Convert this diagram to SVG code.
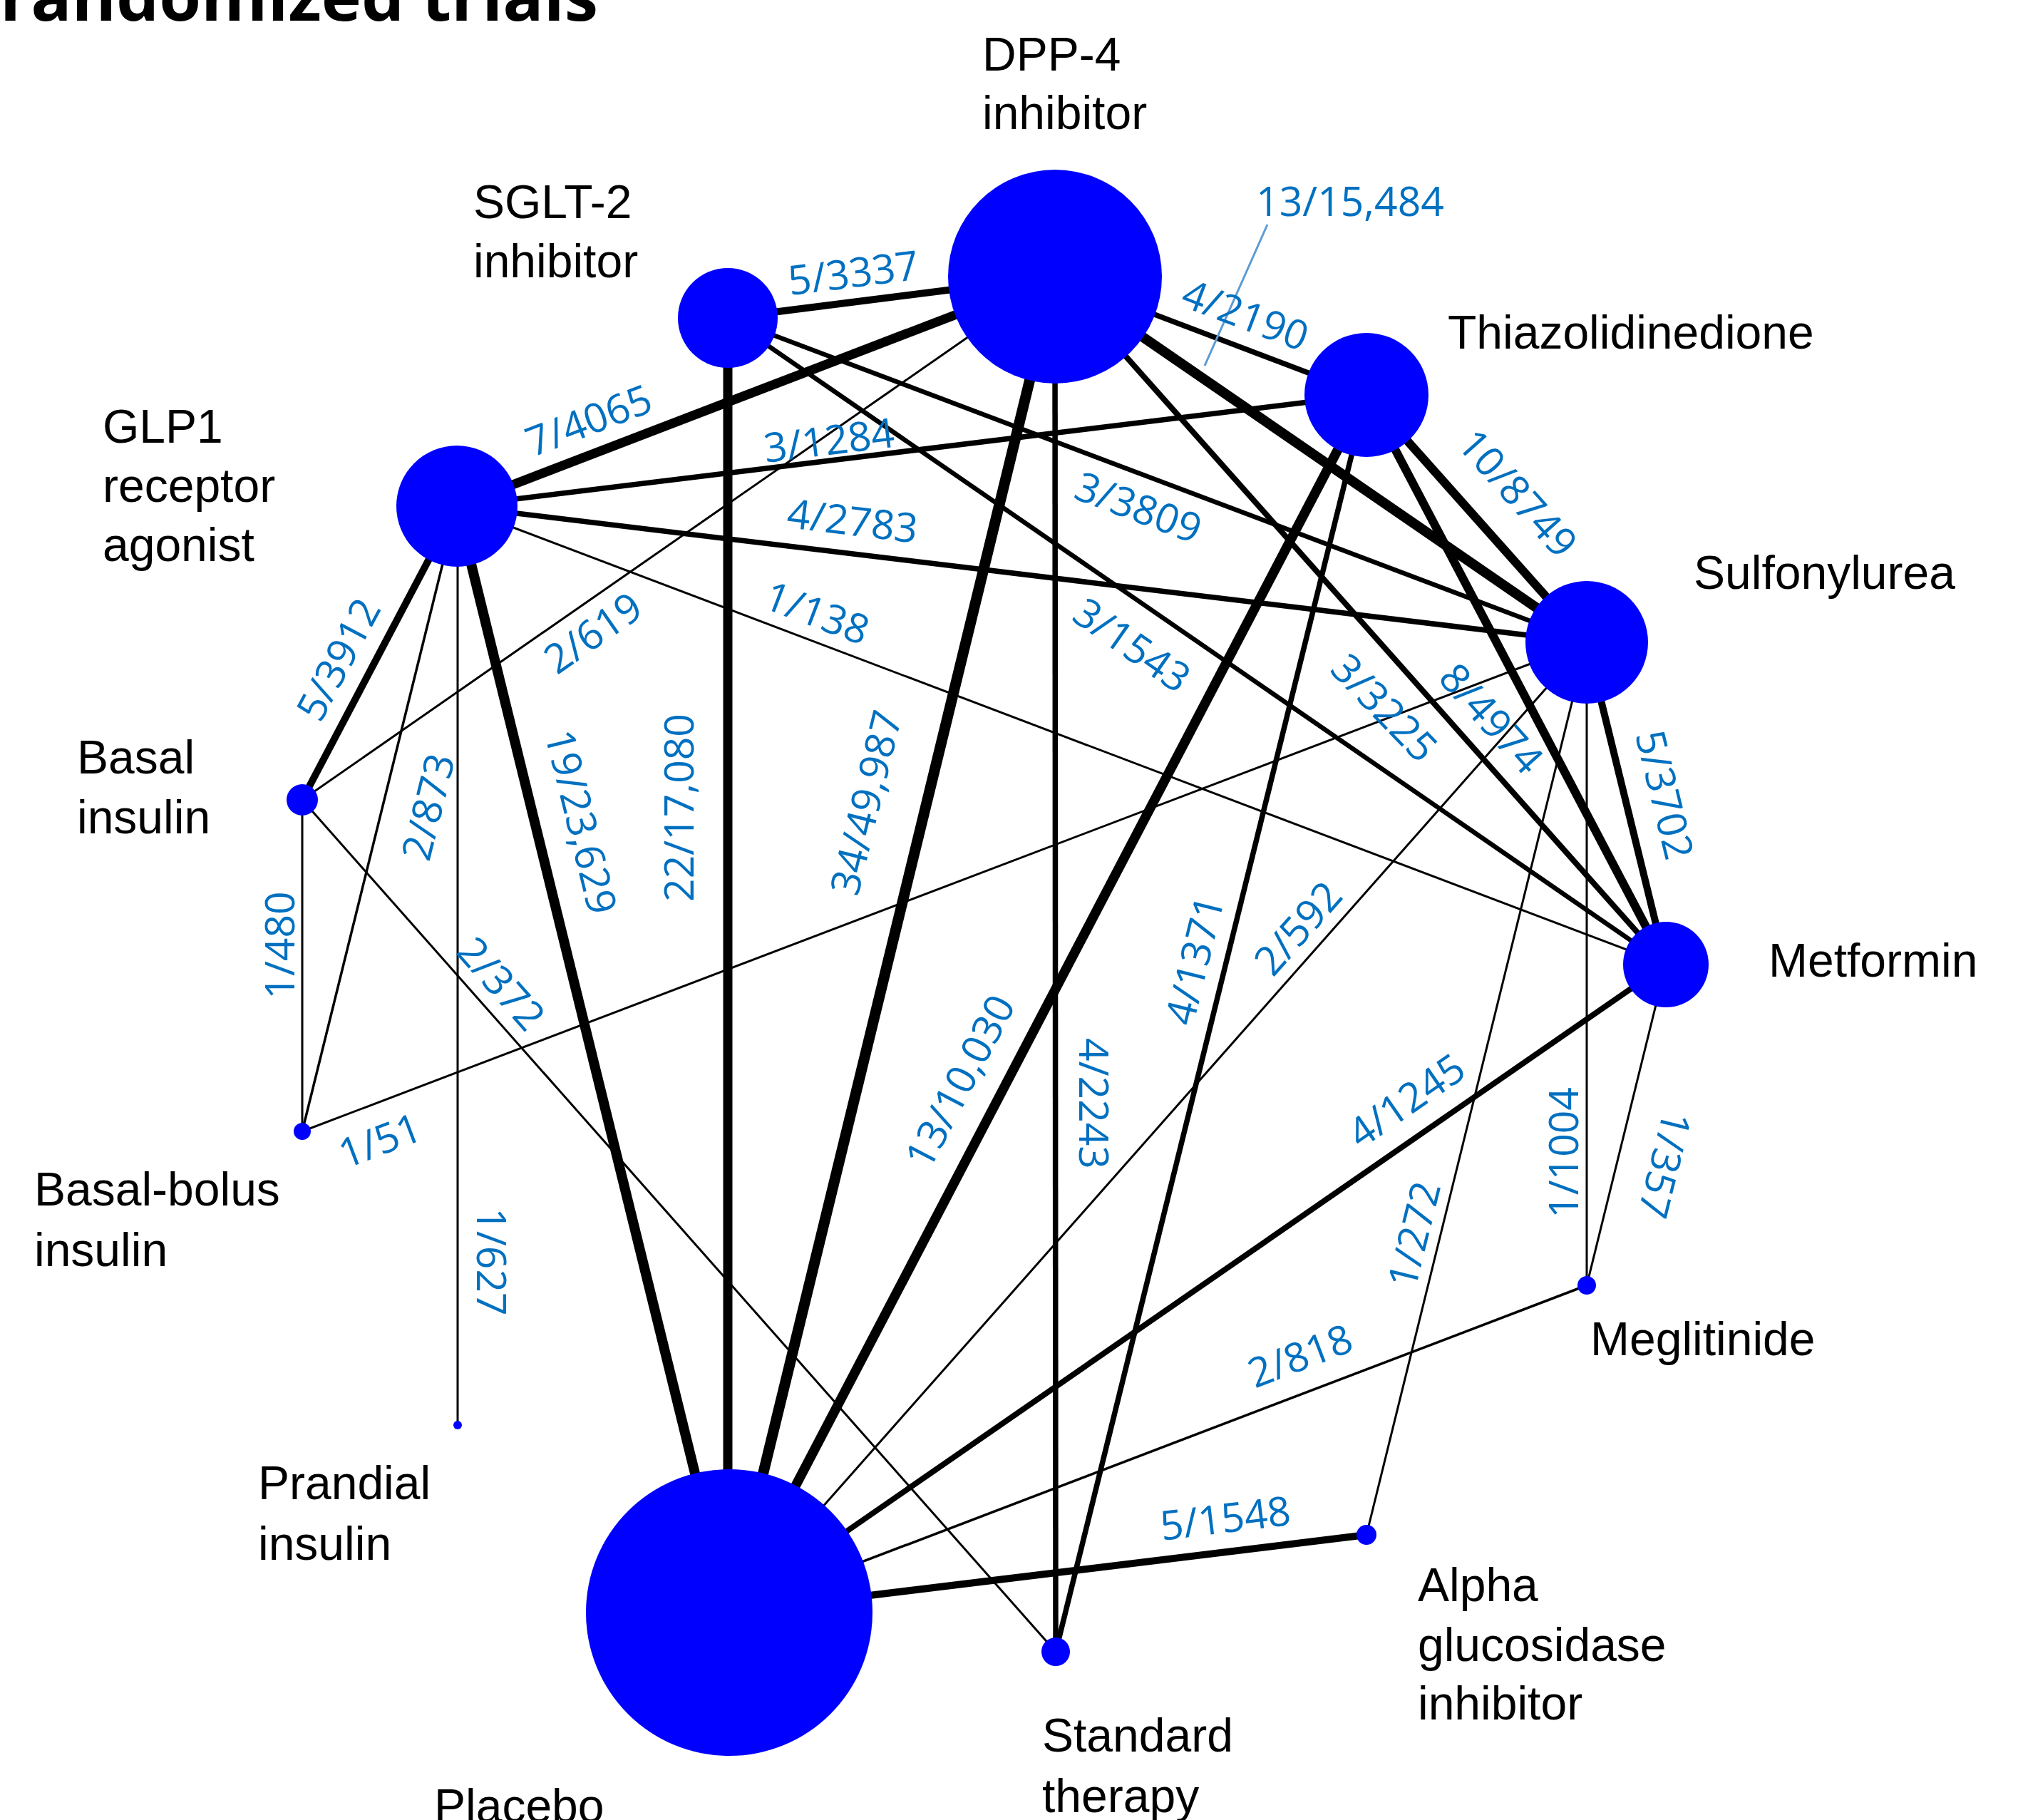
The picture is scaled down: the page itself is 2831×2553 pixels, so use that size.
<svg xmlns="http://www.w3.org/2000/svg" width="2831" height="2553" viewBox="0 0 2831 2553">
<style>
.bg{fill:#ffffff}
.node{fill:#0000ff}
.e{stroke:#000000;fill:none;stroke-linecap:butt}
.lab{font-family:"Liberation Sans",Arial,sans-serif;font-size:66px;fill:#000000}
.el{font-family:"Open Sans","DejaVu Sans",sans-serif;font-size:57px;fill:#0070c0;text-anchor:middle}
.title{font-family:"Open Sans","Liberation Sans",sans-serif;font-size:94px;font-weight:bold;fill:#000000}
.lead{stroke:#5b9bd5;stroke-width:3;fill:none}
</style>
<rect class="bg" x="0" y="0" width="2831" height="2553"/>
<text class="title" x="0" y="29" textLength="839" lengthAdjust="spacingAndGlyphs">randomized trials</text>

<g id="connectors">
  <line class="e" x1="1021" y1="446" x2="1480" y2="388" stroke-width="10"/>
  <line class="e" x1="641" y1="710" x2="1480" y2="388" stroke-width="13"/>
  <line class="e" x1="1480" y1="388" x2="1917" y2="554" stroke-width="7.5"/>
  <line class="e" x1="1480" y1="388" x2="2226" y2="901" stroke-width="14"/>
  <line class="e" x1="1480" y1="388" x2="2337" y2="1353" stroke-width="8"/>
  <line class="e" x1="1480" y1="388" x2="1023" y2="2262" stroke-width="15"/>
  <line class="e" x1="1480" y1="388" x2="1481" y2="2317" stroke-width="7.5"/>
  <line class="e" x1="1480" y1="388" x2="424" y2="1122" stroke-width="3"/>
  <line class="e" x1="1021" y1="446" x2="2226" y2="901" stroke-width="6.5"/>
  <line class="e" x1="1021" y1="446" x2="2337" y2="1353" stroke-width="6.5"/>
  <line class="e" x1="1021" y1="446" x2="1021" y2="2262" stroke-width="13"/>
  <line class="e" x1="641" y1="710" x2="1917" y2="554" stroke-width="7.5"/>
  <line class="e" x1="641" y1="710" x2="2226" y2="901" stroke-width="7.5"/>
  <line class="e" x1="641" y1="710" x2="2337" y2="1353" stroke-width="3"/>
  <line class="e" x1="641" y1="710" x2="424" y2="1122" stroke-width="10"/>
  <line class="e" x1="641" y1="710" x2="424" y2="1587" stroke-width="3.5"/>
  <line class="e" x1="642" y1="710" x2="642" y2="1999" stroke-width="3"/>
  <line class="e" x1="641" y1="710" x2="1023" y2="2262" stroke-width="14"/>
  <line class="e" x1="1917" y1="554" x2="2226" y2="901" stroke-width="12"/>
  <line class="e" x1="1917" y1="554" x2="2337" y2="1353" stroke-width="12"/>
  <line class="e" x1="1917" y1="554" x2="1023" y2="2262" stroke-width="13.5"/>
  <line class="e" x1="1917" y1="554" x2="1481" y2="2317" stroke-width="7.5"/>
  <line class="e" x1="2226" y1="901" x2="2337" y2="1353" stroke-width="10"/>
  <line class="e" x1="2226" y1="901" x2="424" y2="1587" stroke-width="3"/>
  <line class="e" x1="2226" y1="901" x2="1023" y2="2262" stroke-width="3"/>
  <line class="e" x1="2226" y1="901" x2="2226" y2="1803" stroke-width="3"/>
  <line class="e" x1="2226" y1="901" x2="1917" y2="2153" stroke-width="3"/>
  <line class="e" x1="2337" y1="1353" x2="1023" y2="2262" stroke-width="8"/>
  <line class="e" x1="2337" y1="1353" x2="2226" y2="1803" stroke-width="3"/>
  <line class="e" x1="424" y1="1122" x2="424" y2="1587" stroke-width="3"/>
  <line class="e" x1="424" y1="1122" x2="1481" y2="2317" stroke-width="3"/>
  <line class="e" x1="1023" y1="2262" x2="2226" y2="1803" stroke-width="3.5"/>
  <line class="e" x1="1023" y1="2262" x2="1917" y2="2153" stroke-width="10"/>
  <line class="lead" x1="1778" y1="315" x2="1690" y2="513"/>
</g>

<g id="edge-labels">
  <text class="el" transform="translate(1197,383) rotate(-7.2)" y="20">5/3337</text>
  <text class="el" x="1894" y="303">13/15,484</text>
  <text class="el" transform="translate(1747,442) rotate(20.8)" y="20">4/2190</text>
  <text class="el" transform="translate(826,590) rotate(-21)" y="20">7/4065</text>
  <text class="el" transform="translate(1163,618) rotate(-7)" y="20">3/1284</text>
  <text class="el" transform="translate(1597,712) rotate(20.7)" y="20">3/3809</text>
  <text class="el" transform="translate(1196,731) rotate(6.9)" y="20">4/2783</text>
  <text class="el" transform="translate(2129,692) rotate(48.3)" y="20">10/8749</text>
  <text class="el" transform="translate(1146,860) rotate(20.8)" y="20">1/138</text>
  <text class="el" transform="translate(1588,905) rotate(35)" y="20">3/1543</text>
  <text class="el" transform="translate(1942,993) rotate(46)" y="20">3/3225</text>
  <text class="el" transform="translate(2092,1008) rotate(48)" y="20">8/4974</text>
  <text class="el" transform="translate(2335,1115) rotate(76.2)" y="20">5/3702</text>
  <text class="el" transform="translate(475,925) rotate(-62)" y="20">5/3912</text>
  <text class="el" transform="translate(832,888) rotate(-34.8)" y="20">2/619</text>
  <text class="el" transform="translate(601,1132) rotate(-76)" y="20">2/873</text>
  <text class="el" transform="translate(815,1153) rotate(76.2)" y="20">19/23,629</text>
  <text class="el" transform="translate(953,1133) rotate(-90)" y="20">22/17,080</text>
  <text class="el" transform="translate(1215,1126) rotate(-76.3)" y="20">34/49,987</text>
  <text class="el" transform="translate(393,1326) rotate(-90)" y="20">1/480</text>
  <text class="el" transform="translate(703,1380) rotate(48.5)" y="20">2/372</text>
  <text class="el" transform="translate(533,1600) rotate(-20.8)" y="20">1/51</text>
  <text class="el" transform="translate(689,1770) rotate(90)" y="20">1/627</text>
  <text class="el" transform="translate(1347,1517) rotate(-62.4)" y="20">13/10,030</text>
  <text class="el" transform="translate(1534,1548) rotate(90)" y="20">4/2243</text>
  <text class="el" transform="translate(1676,1347) rotate(-76.1)" y="20">4/1371</text>
  <text class="el" transform="translate(1821,1302) rotate(-48.5)" y="20">2/592</text>
  <text class="el" transform="translate(1973,1544) rotate(-34.7)" y="20">4/1245</text>
  <text class="el" transform="translate(1984,1732) rotate(-76.1)" y="20">1/272</text>
  <text class="el" transform="translate(2194,1617) rotate(-90)" y="20">1/1004</text>
  <text class="el" transform="translate(2335,1634) rotate(104)" y="20">1/357</text>
  <text class="el" transform="translate(1824,1902) rotate(-20.9)" y="20">2/818</text>
  <text class="el" transform="translate(1719,2130) rotate(-7)" y="20">5/1548</text>
</g>

<g id="node-dpp4">
  <circle class="node" cx="1480" cy="388" r="150"/>
  <text class="lab" x="1378" y="99">DPP-4</text>
  <text class="lab" x="1378" y="181">inhibitor</text>
</g>
<g id="node-sglt2">
  <circle class="node" cx="1021" cy="446" r="70"/>
  <text class="lab" x="664" y="306">SGLT-2</text>
  <text class="lab" x="664" y="389">inhibitor</text>
</g>
<g id="node-tzd">
  <circle class="node" cx="1917" cy="554" r="87"/>
  <text class="lab" x="2031" y="489">Thiazolidinedione</text>
</g>
<g id="node-glp1">
  <circle class="node" cx="641" cy="710" r="85"/>
  <text class="lab" x="144" y="621">GLP1</text>
  <text class="lab" x="144" y="704">receptor</text>
  <text class="lab" x="144" y="787">agonist</text>
</g>
<g id="node-su">
  <circle class="node" cx="2226" cy="901" r="86"/>
  <text class="lab" x="2376" y="826">Sulfonylurea</text>
</g>
<g id="node-basal">
  <circle class="node" cx="424" cy="1122" r="22"/>
  <text class="lab" x="108" y="1085">Basal</text>
  <text class="lab" x="108" y="1169">insulin</text>
</g>
<g id="node-met">
  <circle class="node" cx="2337" cy="1353" r="60"/>
  <text class="lab" x="2481" y="1370">Metformin</text>
</g>
<g id="node-basalbolus">
  <circle class="node" cx="424" cy="1587" r="12"/>
  <text class="lab" x="48" y="1691">Basal-bolus</text>
  <text class="lab" x="48" y="1776">insulin</text>
</g>
<g id="node-meg">
  <circle class="node" cx="2226" cy="1803" r="13"/>
  <text class="lab" x="2231" y="1901">Meglitinide</text>
</g>
<g id="node-prandial">
  <circle class="node" cx="642" cy="1999" r="6"/>
  <text class="lab" x="362" y="2103">Prandial</text>
  <text class="lab" x="362" y="2188">insulin</text>
</g>
<g id="node-agi">
  <circle class="node" cx="1917" cy="2153" r="14"/>
  <text class="lab" x="1989" y="2246">Alpha</text>
  <text class="lab" x="1989" y="2330">glucosidase</text>
  <text class="lab" x="1989" y="2412">inhibitor</text>
</g>
<g id="node-std">
  <circle class="node" cx="1481" cy="2317" r="20"/>
  <text class="lab" x="1462" y="2457">Standard</text>
  <text class="lab" x="1462" y="2542">therapy</text>
</g>
<g id="node-placebo">
  <circle class="node" cx="1023" cy="2262" r="201"/>
  <text class="lab" x="609" y="2556">Placebo</text>
</g>
</svg>
